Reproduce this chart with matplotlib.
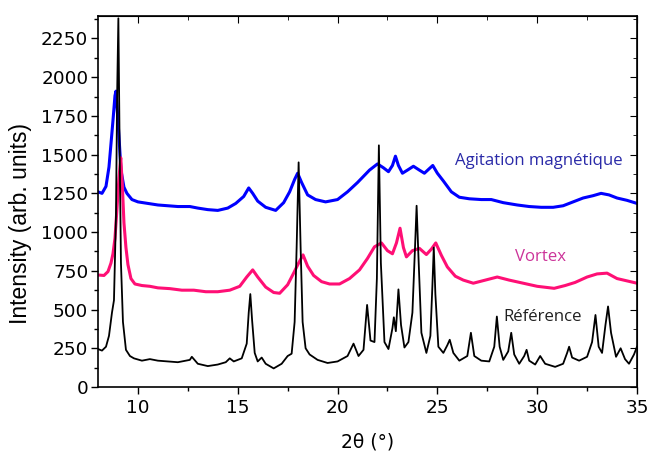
import numpy as np
import matplotlib
matplotlib.use("Agg")
import matplotlib.pyplot as plt
from matplotlib.ticker import MultipleLocator

# --- data ---
agit_x = [8.0, 8.2, 8.4, 8.55, 8.65, 8.75, 8.85, 8.9, 8.95, 9.05, 9.15, 9.3, 9.45, 9.7,
          10.0, 10.5, 11.0, 11.5, 12.0, 12.6, 13.0, 13.5, 14.0, 14.5, 14.9, 15.3, 15.55,
          15.75, 16.0, 16.4, 16.9, 17.3, 17.6, 17.85, 18.0, 18.2, 18.5, 18.9, 19.4, 20.0,
          20.5, 21.0, 21.6, 22.0, 22.3, 22.55, 22.75, 22.9, 23.05, 23.25, 23.5, 23.8,
          24.1, 24.35, 24.6, 24.77, 25.0, 25.3, 25.7, 26.1, 26.6, 27.2, 27.7, 28.3, 29.0,
          29.6, 30.2, 30.8, 31.3, 31.8, 32.3, 32.8, 33.2, 33.6, 34.0, 34.5, 35.0]
agit_y = [1260, 1250, 1295, 1420, 1570, 1720, 1880, 1910, 1820, 1620, 1400, 1290, 1250, 1210,
          1195, 1185, 1175, 1170, 1165, 1165, 1155, 1145, 1140, 1155, 1185, 1230, 1285,
          1250, 1200, 1160, 1140, 1190, 1260, 1340, 1380, 1320, 1240, 1210, 1195, 1210,
          1260, 1320, 1400, 1440, 1415, 1390, 1430, 1490, 1430, 1380, 1400, 1425,
          1400, 1380, 1410, 1430, 1380, 1330, 1260, 1225, 1215, 1210, 1210, 1190, 1175,
          1165, 1160, 1160, 1170, 1195, 1220, 1235, 1250, 1240, 1220, 1205, 1185]

vortex_x = [8.0, 8.3, 8.5, 8.65, 8.75, 8.85, 8.95, 9.05, 9.14, 9.22, 9.3, 9.4, 9.5, 9.65,
            9.85, 10.2, 10.6, 11.0, 11.6, 12.2, 12.8, 13.4, 14.0, 14.6, 15.1, 15.45, 15.75,
            16.0, 16.4, 16.8, 17.1, 17.5, 17.8, 18.05, 18.27, 18.5, 18.8, 19.2, 19.6, 20.1,
            20.6, 21.1, 21.5, 21.85, 22.2, 22.5, 22.75, 22.95, 23.13, 23.3, 23.45, 23.75,
            24.1, 24.45, 24.7, 24.92, 25.2, 25.5, 25.9, 26.3, 26.8, 27.4, 28.0, 28.6, 29.3,
            30.0, 30.85, 31.4, 31.9, 32.5, 33.0, 33.5, 34.0, 34.5, 35.0]
vortex_y = [723, 720, 745, 800, 860, 960, 1150, 1350, 1480, 1300, 1060, 900, 790, 700,
            665, 655, 650, 640, 635, 625, 625, 615, 615, 625, 650, 710, 756,
            710, 645, 610, 605, 660, 735, 800, 853, 780, 720, 680, 665, 665,
            700, 756, 830, 905, 930, 880, 860, 930, 1025, 900, 840, 880,
            895, 855, 890, 930, 850, 775, 715, 690, 670, 690, 710, 690, 670,
            650, 637, 655, 675, 710, 730, 735, 700, 685, 670]

ref_x = [8.0, 8.2, 8.4, 8.55, 8.7, 8.8, 8.9, 8.96, 9.02, 9.08, 9.15, 9.25, 9.4, 9.6, 9.8,
         10.2, 10.6, 11.0, 11.5, 12.0, 12.6, 12.7, 13.0, 13.5, 14.0, 14.4, 14.6, 14.8, 15.2,
         15.45, 15.55, 15.63, 15.72, 15.85, 16.0, 16.2, 16.4, 16.8, 17.2, 17.5, 17.7, 17.85,
         17.95, 18.05, 18.15, 18.25, 18.4, 18.6, 19.0, 19.5, 20.0, 20.5, 20.8, 21.05, 21.3,
         21.48, 21.65, 21.85, 21.97, 22.07, 22.17, 22.35, 22.55, 22.75, 22.82, 22.92, 23.05,
         23.18, 23.35, 23.55, 23.75, 23.88, 23.96, 24.05, 24.2, 24.45, 24.65, 24.75, 24.82,
         24.9, 25.05, 25.3, 25.5, 25.62, 25.8, 26.1, 26.5, 26.68, 26.85, 27.2, 27.6, 27.85,
         27.98, 28.12, 28.3, 28.55, 28.7, 28.85, 29.1, 29.35, 29.47, 29.6, 29.9, 30.15, 30.4,
         30.9, 31.3, 31.5, 31.6, 31.75, 32.1, 32.5, 32.75, 32.92, 33.08, 33.25, 33.42, 33.55,
         33.7, 33.95, 34.18, 34.4, 34.6, 34.85, 35.0]
ref_y = [245, 235, 260, 330, 480, 560, 1100, 1900, 2380, 1600, 800, 420, 240, 200, 185,
         170, 180, 170, 165, 160, 175, 195, 150, 135, 145, 160, 185, 165, 185,
         280, 480, 600, 430, 220, 165, 190, 150, 120, 150, 200, 215, 420,
         900, 1450, 900, 420, 250, 210, 175, 155, 165, 200, 280, 200, 240,
         530, 300, 290, 700, 1560, 800, 290, 245, 380, 450, 360, 630,
         400, 255, 290, 480, 900, 1170, 850, 350, 220, 330, 650, 900,
         600, 260, 220, 270, 305, 220, 170, 200, 350, 200, 170, 165, 260,
         455, 260, 175, 230, 350, 210, 150, 200, 240, 170, 145, 200, 150,
         130, 150, 220, 260, 190, 170, 195, 290, 465, 260, 220, 400, 520,
         350, 195, 250, 180, 150, 210, 260]

fig = plt.figure(figsize=(6.49, 4.53), dpi=100)
ax = fig.add_axes([0.151, 0.1457, 0.8305, 0.819])

ax.plot(agit_x, agit_y, color="#0000ff", lw=2.2)
ax.plot(vortex_x, vortex_y, color="#ff0f75", lw=2.2)
ax.plot(ref_x, ref_y, color="black", lw=1.3)

ax.set_xlim(8, 35)
ax.set_ylim(0, 2395)
ax.xaxis.set_major_locator(MultipleLocator(5))
ax.xaxis.set_minor_locator(MultipleLocator(2.5))
ax.yaxis.set_major_locator(MultipleLocator(250))
ax.yaxis.set_minor_locator(MultipleLocator(125))

tick_font = "DejaVu Sans"
ax.tick_params(which="major", direction="out", length=5, width=1, labelsize=13.3)
ax.tick_params(which="minor", direction="out", length=3, width=1)
ax.tick_params(axis="y", pad=2)
for lab in ax.get_xticklabels() + ax.get_yticklabels():
    lab.set_fontfamily(tick_font)

# mirrored inward ticks on top and right
top = ax.secondary_xaxis("top")
top.xaxis.set_major_locator(MultipleLocator(5))
top.xaxis.set_minor_locator(MultipleLocator(2.5))
top.tick_params(which="major", direction="in", length=5, labeltop=False)
top.tick_params(which="minor", direction="in", length=3)
right = ax.secondary_yaxis("right")
right.yaxis.set_major_locator(MultipleLocator(250))
right.yaxis.set_minor_locator(MultipleLocator(125))
right.tick_params(which="major", direction="in", length=5, labelright=False)
right.tick_params(which="minor", direction="in", length=3)

for sp in ax.spines.values():
    sp.set_linewidth(1.2)

ax.set_ylabel("Intensity (arb. units)", fontsize=16.5, family="Liberation Sans")
ax.yaxis.set_label_coords(-0.122, 0.44)
ax.set_xlabel("2\u03b8 (°)", fontsize=13.5, family="DejaVu Sans")
ax.xaxis.set_label_coords(0.5, -0.122)

ax.text(25.9, 1460, "Agitation magnétique", color="#2a2aa8", fontsize=12.1,
        family="Open Sans", va="center", ha="left")
ax.text(28.9, 842, "Vortex", color="#cc3399", fontsize=12.1,
        family="Open Sans", va="center", ha="left")
ax.text(28.3, 454, "Référence", color="#202020", fontsize=12.1,
        family="Open Sans", va="center", ha="left")

fig.savefig("out.png", dpi=100)
